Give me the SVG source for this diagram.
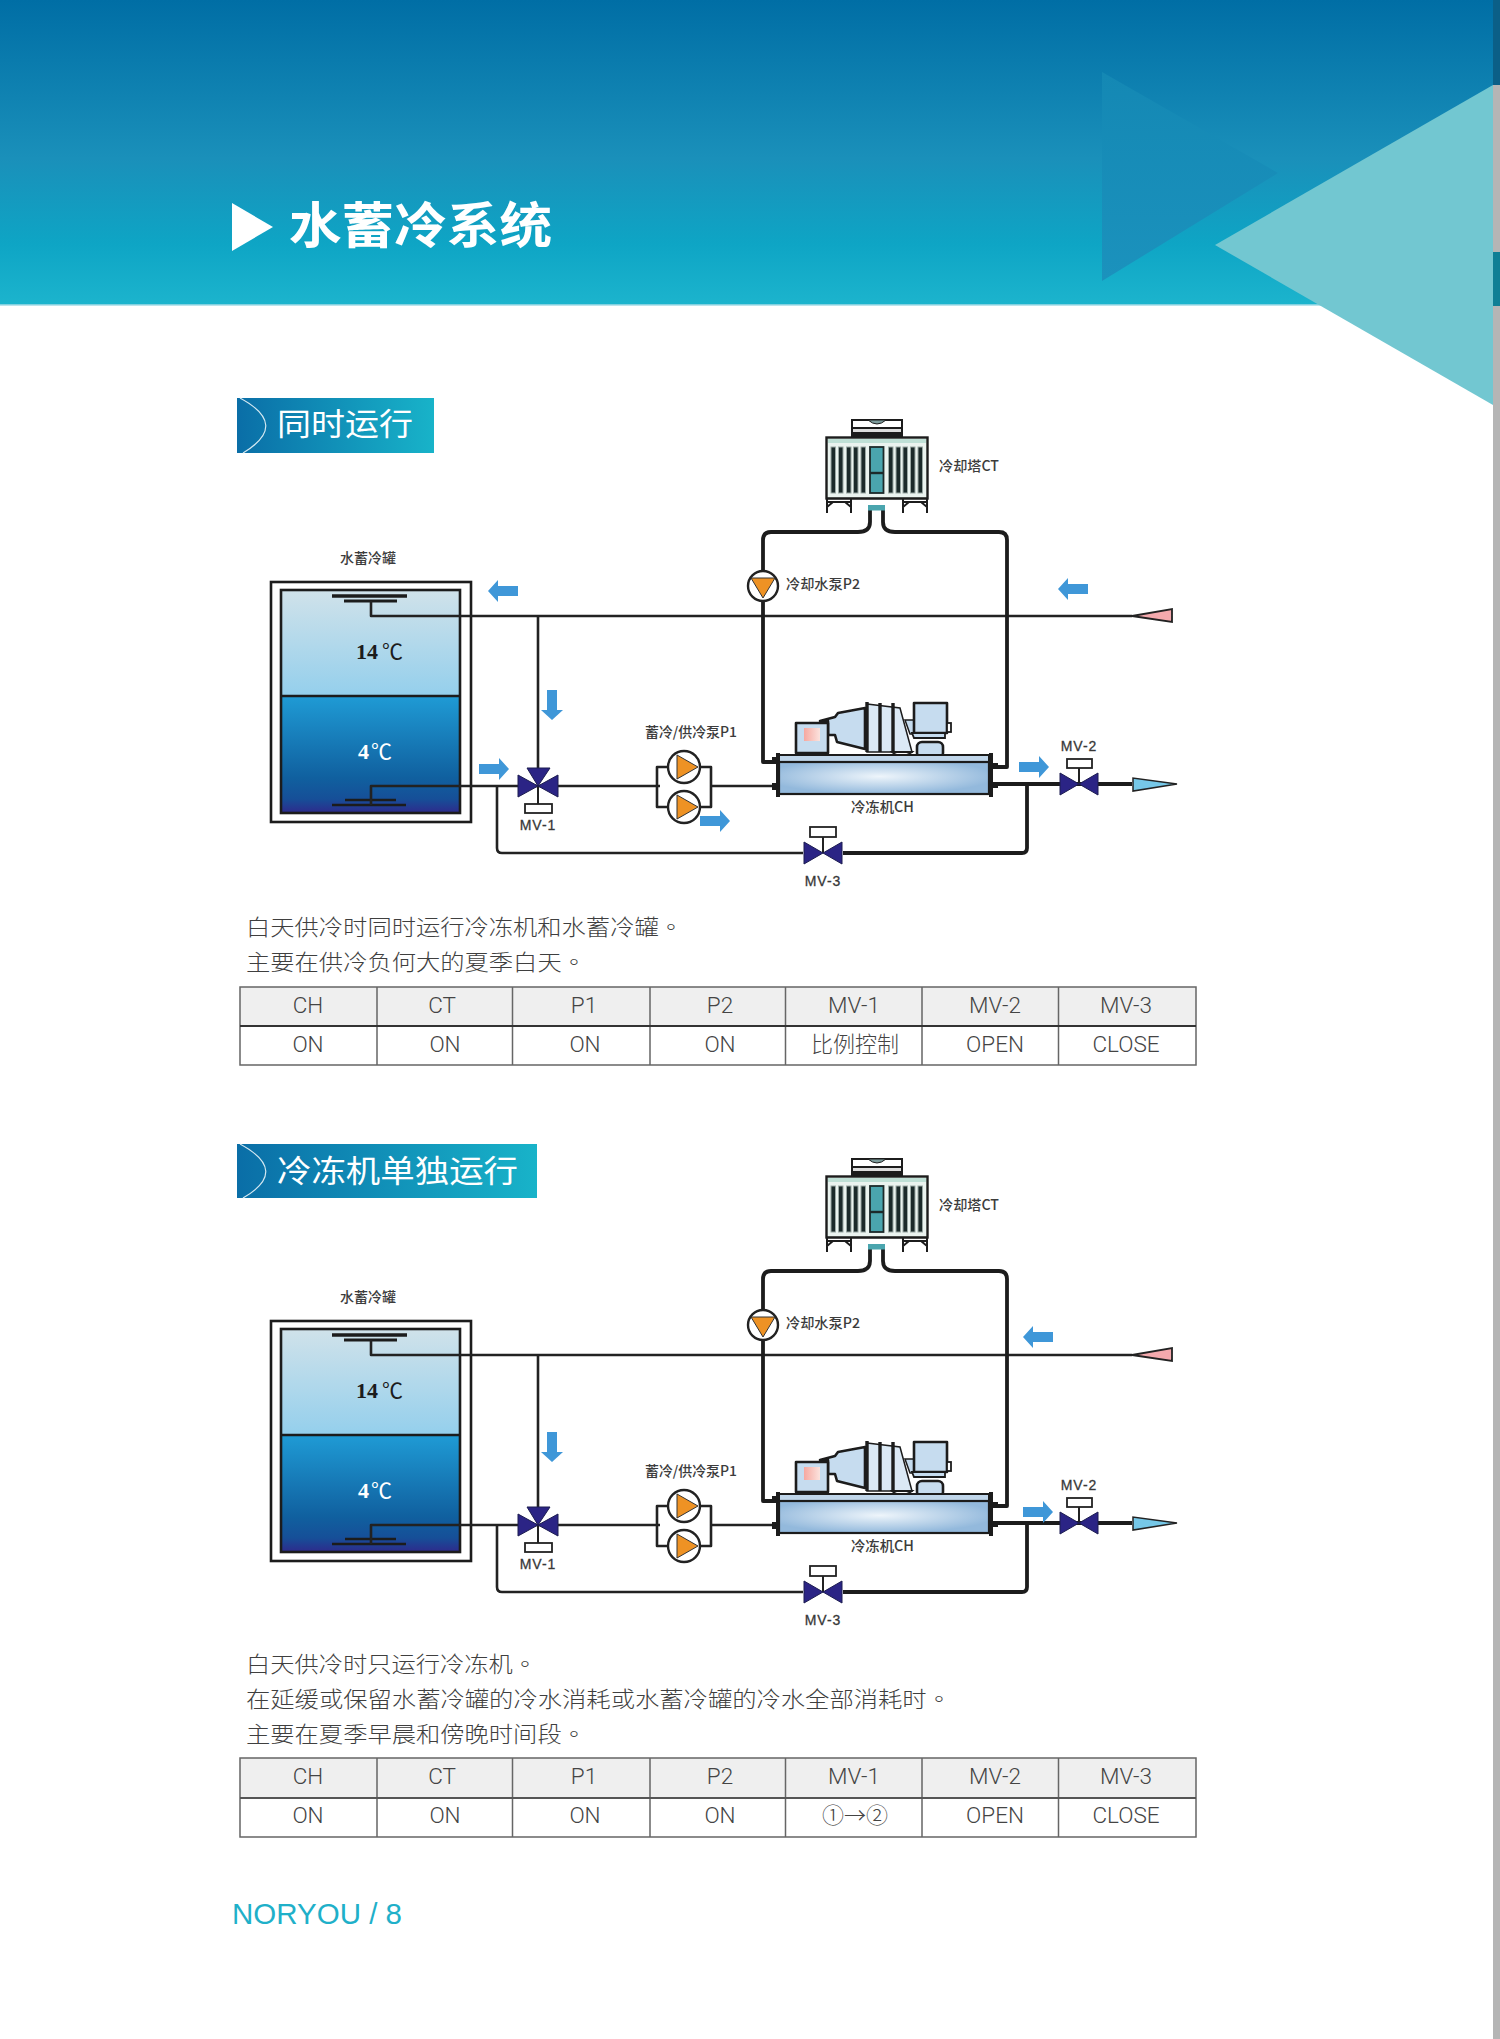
<svg xmlns="http://www.w3.org/2000/svg" width="1500" height="2039" viewBox="0 0 1500 2039">
<style>
.pipe{fill:none;stroke:#222;stroke-width:2.6;stroke-linejoin:round}
.thick{fill:none;stroke:#1c1c1c;stroke-width:3.8;stroke-linejoin:round}
.lbl{font-family:"Noto Sans CJK SC","Liberation Sans",sans-serif;font-size:14px;font-weight:500;fill:#3c3c3c}
.mv{font-family:"Liberation Sans","Noto Sans CJK SC",sans-serif;font-size:14px;fill:#333;stroke:#444;stroke-width:.3px;letter-spacing:1px;text-anchor:middle}
.temp{font-family:"Liberation Serif","Noto Sans CJK SC",serif;font-size:22px;font-weight:bold}
.deg{font-family:"Noto Sans CJK SC",serif;font-size:21px;font-weight:400}
.body{font-family:"Noto Sans CJK SC","Liberation Sans",sans-serif;font-size:22px;font-weight:300;fill:#3f3f3f}
.stop{font-family:"Noto Sans CJK TC",sans-serif}
.tag{font-family:"Noto Sans CJK SC","Liberation Sans",sans-serif;font-size:31px;font-weight:400;fill:#fff}
.cell{font-family:Roboto,"Liberation Sans","Noto Sans CJK SC",sans-serif;font-size:22.5px;font-weight:300;fill:#444;text-anchor:middle}
.cjk{font-family:"Noto Sans CJK SC",sans-serif;font-size:22px}
.arr{fill:#3f97d8}
.grid{stroke:#666;stroke-width:1.5;fill:none}
.slat{fill:#1b2a2a;stroke:#9aa8a4;stroke-width:1}
.blk{fill:#c6dcef;stroke:#1c1c1c;stroke-width:2.6;stroke-linejoin:round}
.ring{fill:none;stroke:#1c1c1c;stroke-width:3.4}
</style>
<defs>
<linearGradient id="hdr" x1="0" y1="0" x2="0" y2="1"><stop offset="0" stop-color="#006ea5"/><stop offset=".52" stop-color="#1a90ba"/><stop offset=".8" stop-color="#0ea5c5"/><stop offset="1" stop-color="#1cb4cd"/></linearGradient>
<linearGradient id="dtri" x1="0" y1="0" x2="0" y2="1"><stop offset="0" stop-color="#1488b4"/><stop offset="1" stop-color="#1b92bd"/></linearGradient>
<linearGradient id="tagg" x1="0" y1="0" x2="1" y2="0"><stop offset="0" stop-color="#0a6ea7"/><stop offset="1" stop-color="#18b3c9"/></linearGradient>
<linearGradient id="warm" x1="0" y1="0" x2="0" y2="1"><stop offset="0" stop-color="#d0e2ea"/><stop offset="1" stop-color="#94cfec"/></linearGradient>
<linearGradient id="cold" x1="0" y1="0" x2="0" y2="1"><stop offset="0" stop-color="#1f9bd5"/><stop offset=".7" stop-color="#10609f"/><stop offset=".88" stop-color="#164f98"/><stop offset="1" stop-color="#2e2a8c"/></linearGradient>
<radialGradient id="shell" cx=".48" cy=".45" r=".55"><stop offset="0" stop-color="#eef5fb"/><stop offset="1" stop-color="#93b9dc"/></radialGradient>
<linearGradient id="pink" x1="0" y1="0" x2="1" y2="0"><stop offset="0" stop-color="#f6a8a0"/><stop offset="1" stop-color="#fbe3de"/></linearGradient>
<g id="ct-shape">
<rect x="852" y="420" width="50" height="8" fill="#fff" stroke="#1c1c1c" stroke-width="2"/>
<path d="M868 420Q877 428 886 420Z" fill="#7d9c9c" stroke="#1c1c1c"/>
<rect x="852" y="428" width="50" height="9" fill="#ddd" stroke="#1c1c1c" stroke-width="2"/>
<rect x="852" y="432" width="50" height="5" fill="#1c1c1c"/>
<rect x="826.500" y="437.500" width="101" height="61" fill="#eaf3ef" stroke="#1c1c1c" stroke-width="2.400"/>
<rect x="828" y="439" width="98" height="4" fill="#bfe0d6"/>
<rect class="slat" x="831" y="447" width="4.500" height="46"/><rect class="slat" x="838.500" y="447" width="4.500" height="46"/><rect class="slat" x="846.500" y="447" width="4.500" height="46"/><rect class="slat" x="853.500" y="447" width="4.500" height="46"/><rect class="slat" x="861" y="447" width="4.500" height="46"/>
<rect class="slat" x="888.500" y="447" width="4.500" height="46"/><rect class="slat" x="896" y="447" width="4.500" height="46"/><rect class="slat" x="903" y="447" width="4.500" height="46"/><rect class="slat" x="910.500" y="447" width="4.500" height="46"/><rect class="slat" x="918" y="447" width="4.500" height="46"/>
<rect x="870" y="447" width="13.500" height="46" fill="#4aa5ae" stroke="#1c2a2a" stroke-width="1.800"/>
<path d="M870 473H883.500" stroke="#1c2a2a" stroke-width="2.400"/>
<path d="M827 498.500H927" stroke="#1c1c1c" stroke-width="1.500"/>
<path d="M827 513V498M851 513V498M827 507L833 502H845L851 507M903 513V498M927 513V498M903 507L909 502H921L927 507M827 502H851M903 502H927" fill="none" stroke="#1c1c1c" stroke-width="2"/>
<rect x="868" y="505" width="17" height="5.500" fill="#4aa5ae"/>
</g>
<g id="chiller-shape">
<path d="M867 704L900 708L912 752H867Z" fill="#dbe9f5" stroke="#1c1c1c" stroke-width="1.500"/>
<path d="M820 721L835 717L838 713L865 708V749L837 742L835 735H828V721Z" class="blk"/>
<path d="M867 702V752M880 703V752M893 703V752" class="ring"/>
<rect x="796" y="723" width="32" height="30" class="blk"/>
<rect x="804" y="728" width="16" height="13" fill="url(#pink)"/>
<path d="M905 720H916V734H910Z" fill="#c6dcef" stroke="#1c1c1c" stroke-width="1.500"/>
<rect x="914" y="703" width="33" height="30" class="blk"/>
<rect x="947" y="723" width="4" height="9" fill="#fff" stroke="#1c1c1c" stroke-width="1.800"/>
<path d="M912 733H945V738H914Z" fill="#c6dcef" stroke="#1c1c1c" stroke-width="1.800"/>
<rect x="917" y="742" width="26" height="16" rx="5" class="blk"/>
<path d="M892 752Q901 760 912 752Z" fill="#fff" stroke="#1c1c1c" stroke-width="1.800"/>
<rect x="779" y="755" width="210" height="7.500" fill="#c0d6ea" stroke="#1c1c1c" stroke-width="2"/>
<rect x="779" y="762" width="210" height="32" fill="url(#shell)" stroke="#1c1c1c" stroke-width="2.200"/>
<rect x="776" y="753" width="4" height="44" fill="#1c1c1c"/><rect x="989" y="753" width="4" height="44" fill="#1c1c1c"/>
<rect x="772" y="757" width="5" height="7" fill="#1c1c1c"/><rect x="772" y="783" width="5" height="7" fill="#1c1c1c"/>
<rect x="993" y="763" width="5" height="6" fill="#1c1c1c"/><rect x="993" y="782" width="5" height="6" fill="#1c1c1c"/>
</g>
<path id="valve2" d="M-19 -11V11L19 -11V11Z" fill="#2b2485" stroke="#1c1c50" stroke-width="1"/>
<g id="valve3"><path d="M-20 -11V11L0 0ZM20 -11V11L0 0ZM-11 -18H12L0 0Z" fill="#2b2485" stroke="#1c1c50" stroke-width="1"/></g>
<g id="pumpR"><circle r="16" fill="#fff" stroke="#222" stroke-width="2.400"/><path d="M-7 -12V12L14 0Z" fill="#ee9224" stroke="#333"/></g>
<g id="pumpD"><circle r="15" fill="#fff" stroke="#222" stroke-width="2.400"/><path d="M-12 -8H12L0 12Z" fill="#ee9224" stroke="#333"/></g>
<path id="aR" class="arr" d="M0 -5H20V-11L30 0L20 11V5H0Z"/>
<path id="aL" class="arr" d="M0 -5H-20V-11L-30 0L-20 11V5H0Z"/>
<path id="aD" class="arr" d="M-5 0V20H-11L0 30L11 20H5V0Z"/>
</defs>

<g id="page">
<rect width="1500" height="2039" fill="#fff"/>
<rect width="1500" height="305" fill="url(#hdr)"/>
<path d="M0 305H1500" stroke="#a5dbe6" stroke-width="1.500"/>
<path d="M1102 72V281L1278 173Z" fill="url(#dtri)"/>
<path d="M1215 245L1493 85V405Z" fill="#72c7d1"/>
<rect x="1493" y="85" width="7" height="1954" fill="#b5b5b5"/>
<rect x="1493" y="0" width="7" height="85" fill="#0b5f87"/>
<rect x="1493" y="252" width="7" height="54" fill="#0e7f95"/>
</g>
<g id="title">
<path d="M232 203L273 227L232 251Z" fill="#fff"/>
<text x="289" y="243" font-family="Noto Sans CJK SC, sans-serif" font-size="49" font-weight="700" fill="#fff" textLength="263" lengthAdjust="spacingAndGlyphs">水蓄冷系统</text>
</g>

<g id="tag-1">
<rect x="237" y="398" width="197" height="55" fill="url(#tagg)"/>
<path d="M240 398Q290 425 243 453" fill="none" stroke="#d5e9f2" stroke-width="1.200"/>
<text class="tag" x="277" y="435" textLength="136" lengthAdjust="spacingAndGlyphs">同时运行</text>
</g>

<g id="diagram-1">
<g id="tank-1">
<text class="lbl" x="340" y="563" textLength="56" lengthAdjust="spacingAndGlyphs">水蓄冷罐</text>
<rect x="271" y="582" width="200" height="240" fill="#fff" stroke="#1c1c1c" stroke-width="2.600"/>
<rect x="281" y="590" width="179" height="106" fill="url(#warm)"/>
<rect x="281" y="696" width="179" height="117" fill="url(#cold)"/>
<rect x="281" y="590" width="179" height="223" fill="none" stroke="#1c1c1c" stroke-width="2.600"/>
<path d="M281 696H460" stroke="#1c1c1c" stroke-width="2.400"/>
<path d="M332 596H407" stroke="#1c1c1c" stroke-width="3.600"/><path d="M344 601H397" stroke="#1c1c1c" stroke-width="3"/>
<path d="M345 800H396M332 805H406" stroke="#1c1c1c" stroke-width="2.400"/>
<text class="temp" x="356" y="659" fill="#1c1c1c">14 <tspan class="deg" x="382">℃</tspan></text>
<text class="temp" x="358" y="759" fill="#fff">4 <tspan class="deg" x="371">℃</tspan></text>
</g>
<g id="connectors-1">
<path class="pipe" d="M371 601V616H1132"/>
<path class="pipe" d="M538 616V780"/>
<path class="pipe" d="M371 805V786H660"/>
<path class="pipe" d="M657 786V767H711V807H657V786M711 786H772"/>
<path class="pipe" d="M497 786V848Q497 853 502 853H803"/>
<path class="thick" d="M843 853H1022Q1027 853 1027 848V784"/>
<path class="thick" d="M996 784H1132"/>
<path class="thick" d="M870 510V522Q870 532 858 532H771Q763 532 763 540V762H772"/>
<path class="thick" d="M883 510V522Q883 532 895 532H999Q1007 532 1007 540V767H996"/>
<use href="#aL" x="518" y="591"/><use href="#aD" x="552" y="690"/><use href="#aR" x="479" y="769"/><use href="#aR" x="700" y="821"/><use href="#aR" x="1019" y="767"/><use href="#aL" x="1088" y="589"/>
</g>
<g id="inlet-1"><path d="M1132 616L1172 609V622Z" fill="#f4a9ad" stroke="#222" stroke-width="1.800"/></g>
<g id="outlet-1"><path d="M1133 778V791L1177 784Z" fill="#76c8e8" stroke="#222" stroke-width="1.500"/></g>
<g id="mv1-1"><path d="M538 786V804" stroke="#222" stroke-width="2"/><use href="#valve3" x="538" y="786"/><rect x="525" y="804" width="27" height="9" fill="#fff" stroke="#222" stroke-width="1.800"/><text class="mv" x="538" y="830">MV-1</text></g>
<g id="mv2-1"><path d="M1079 768V784" stroke="#222" stroke-width="2"/><use href="#valve2" x="1079" y="784"/><rect x="1067" y="759" width="25" height="9" fill="#fff" stroke="#222" stroke-width="1.800"/><text class="mv" x="1079" y="751">MV-2</text></g>
<g id="mv3-1"><path d="M823 837V853" stroke="#222" stroke-width="2"/><use href="#valve2" x="823" y="853"/><rect x="810" y="827" width="26" height="10" fill="#fff" stroke="#222" stroke-width="1.800"/><text class="mv" x="823" y="886">MV-3</text></g>
<g id="p1-1"><use href="#pumpR" x="684" y="767"/><use href="#pumpR" x="684" y="807"/><text class="lbl" x="645" y="737" textLength="92" lengthAdjust="spacingAndGlyphs">蓄冷/供冷泵P1</text></g>
<g id="p2-1"><use href="#pumpD" x="763" y="586"/><text class="lbl" x="786" y="589" textLength="74" lengthAdjust="spacingAndGlyphs">冷却水泵P2</text></g>
<g id="ct-1"><use href="#ct-shape"/><text class="lbl" x="939" y="471" textLength="60" lengthAdjust="spacingAndGlyphs">冷却塔CT</text></g>
<g id="ch-1"><use href="#chiller-shape"/><text class="lbl" x="851" y="812" textLength="63" lengthAdjust="spacingAndGlyphs">冷冻机CH</text></g>
</g>

<g id="desc-1">
<text class="body" x="246" y="935" textLength="437" lengthAdjust="spacingAndGlyphs">白天供冷时同时运行冷冻机和水蓄冷罐<tspan class="stop">。</tspan></text>
<text class="body" x="246" y="970" textLength="340" lengthAdjust="spacingAndGlyphs">主要在供冷负何大的夏季白天<tspan class="stop">。</tspan></text>
</g>
<g id="table-1">
<rect x="240" y="987" width="956" height="39" fill="#efefef"/>
<path class="grid" d="M240 987H1196V1065H240ZM377 987V1065M512.500 987V1065M650 987V1065M785.500 987V1065M922 987V1065M1058.500 987V1065"/>
<path d="M240 1026H1196" stroke="#333" stroke-width="1.800"/>
<text class="cell" x="308" y="1013">CH</text><text class="cell" x="442" y="1013">CT</text><text class="cell" x="584" y="1013">P1</text><text class="cell" x="720" y="1013">P2</text><text class="cell" x="854" y="1013">MV-1</text><text class="cell" x="995" y="1013">MV-2</text><text class="cell" x="1126" y="1013">MV-3</text>
<text class="cell" x="308" y="1052">ON</text><text class="cell" x="445" y="1052">ON</text><text class="cell" x="585" y="1052">ON</text><text class="cell" x="720" y="1052">ON</text><text class="cell cjk" x="855" y="1052">比例控制</text><text class="cell" x="995" y="1052">OPEN</text><text class="cell" x="1126" y="1052">CLOSE</text>
</g>

<g id="tag-2">
<rect x="237" y="1144" width="300" height="54" fill="url(#tagg)"/>
<path d="M240 1144Q290 1171 243 1198" fill="none" stroke="#d5e9f2" stroke-width="1.200"/>
<text class="tag" x="277" y="1182" textLength="241" lengthAdjust="spacingAndGlyphs">冷冻机单独运行</text>
</g>

<g id="diagram-2" transform="translate(0,739)">
<g id="tank-2">
<text class="lbl" x="340" y="563" textLength="56" lengthAdjust="spacingAndGlyphs">水蓄冷罐</text>
<rect x="271" y="582" width="200" height="240" fill="#fff" stroke="#1c1c1c" stroke-width="2.600"/>
<rect x="281" y="590" width="179" height="106" fill="url(#warm)"/>
<rect x="281" y="696" width="179" height="117" fill="url(#cold)"/>
<rect x="281" y="590" width="179" height="223" fill="none" stroke="#1c1c1c" stroke-width="2.600"/>
<path d="M281 696H460" stroke="#1c1c1c" stroke-width="2.400"/>
<path d="M332 596H407" stroke="#1c1c1c" stroke-width="3.600"/><path d="M344 601H397" stroke="#1c1c1c" stroke-width="3"/>
<path d="M345 800H396M332 805H406" stroke="#1c1c1c" stroke-width="2.400"/>
<text class="temp" x="356" y="659" fill="#1c1c1c">14 <tspan class="deg" x="382">℃</tspan></text>
<text class="temp" x="358" y="759" fill="#fff">4 <tspan class="deg" x="371">℃</tspan></text>
</g>
<g id="connectors-2">
<path class="pipe" d="M371 601V616H1132"/>
<path class="pipe" d="M538 616V780"/>
<path class="pipe" d="M371 805V786H660"/>
<path class="pipe" d="M657 786V767H711V807H657V786M711 786H772"/>
<path class="pipe" d="M497 786V848Q497 853 502 853H803"/>
<path class="thick" d="M843 853H1022Q1027 853 1027 848V784"/>
<path class="thick" d="M996 784H1132"/>
<path class="thick" d="M870 510V522Q870 532 858 532H771Q763 532 763 540V762H772"/>
<path class="thick" d="M883 510V522Q883 532 895 532H999Q1007 532 1007 540V767H996"/>
<use href="#aD" x="552" y="693"/><use href="#aR" x="1023" y="773"/><use href="#aL" x="1053" y="598"/>
</g>
<g id="inlet-2"><path d="M1132 616L1172 609V622Z" fill="#f4a9ad" stroke="#222" stroke-width="1.800"/></g>
<g id="outlet-2"><path d="M1133 778V791L1177 784Z" fill="#76c8e8" stroke="#222" stroke-width="1.500"/></g>
<g id="mv1-2"><path d="M538 786V804" stroke="#222" stroke-width="2"/><use href="#valve3" x="538" y="786"/><rect x="525" y="804" width="27" height="9" fill="#fff" stroke="#222" stroke-width="1.800"/><text class="mv" x="538" y="830">MV-1</text></g>
<g id="mv2-2"><path d="M1079 768V784" stroke="#222" stroke-width="2"/><use href="#valve2" x="1079" y="784"/><rect x="1067" y="759" width="25" height="9" fill="#fff" stroke="#222" stroke-width="1.800"/><text class="mv" x="1079" y="751">MV-2</text></g>
<g id="mv3-2"><path d="M823 837V853" stroke="#222" stroke-width="2"/><use href="#valve2" x="823" y="853"/><rect x="810" y="827" width="26" height="10" fill="#fff" stroke="#222" stroke-width="1.800"/><text class="mv" x="823" y="886">MV-3</text></g>
<g id="p1-2"><use href="#pumpR" x="684" y="767"/><use href="#pumpR" x="684" y="807"/><text class="lbl" x="645" y="737" textLength="92" lengthAdjust="spacingAndGlyphs">蓄冷/供冷泵P1</text></g>
<g id="p2-2"><use href="#pumpD" x="763" y="586"/><text class="lbl" x="786" y="589" textLength="74" lengthAdjust="spacingAndGlyphs">冷却水泵P2</text></g>
<g id="ct-2"><use href="#ct-shape"/><text class="lbl" x="939" y="471" textLength="60" lengthAdjust="spacingAndGlyphs">冷却塔CT</text></g>
<g id="ch-2"><use href="#chiller-shape"/><text class="lbl" x="851" y="812" textLength="63" lengthAdjust="spacingAndGlyphs">冷冻机CH</text></g>
</g>

<g id="desc-2">
<text class="body" x="246" y="1672" textLength="291" lengthAdjust="spacingAndGlyphs">白天供冷时只运行冷冻机<tspan class="stop">。</tspan></text>
<text class="body" x="246" y="1707" textLength="705" lengthAdjust="spacingAndGlyphs">在延缓或保留水蓄冷罐的冷水消耗或水蓄冷罐的冷水全部消耗时<tspan class="stop">。</tspan></text>
<text class="body" x="246" y="1742" textLength="340" lengthAdjust="spacingAndGlyphs">主要在夏季早晨和傍晚时间段<tspan class="stop">。</tspan></text>
</g>
<g id="table-2">
<rect x="240" y="1758" width="956" height="40" fill="#efefef"/>
<path class="grid" d="M240 1758H1196V1837H240ZM377 1758V1837M512.500 1758V1837M650 1758V1837M785.500 1758V1837M922 1758V1837M1058.500 1758V1837"/>
<path d="M240 1798H1196" stroke="#555" stroke-width="1.800"/>
<text class="cell" x="308" y="1784">CH</text><text class="cell" x="442" y="1784">CT</text><text class="cell" x="584" y="1784">P1</text><text class="cell" x="720" y="1784">P2</text><text class="cell" x="854" y="1784">MV-1</text><text class="cell" x="995" y="1784">MV-2</text><text class="cell" x="1126" y="1784">MV-3</text>
<text class="cell" x="308" y="1823">ON</text><text class="cell" x="445" y="1823">ON</text><text class="cell" x="585" y="1823">ON</text><text class="cell" x="720" y="1823">ON</text><text class="cell cjk" x="855" y="1823">①→②</text><text class="cell" x="995" y="1823">OPEN</text><text class="cell" x="1126" y="1823">CLOSE</text>
</g>
<text id="footer" x="232" y="1924" font-family="Liberation Sans, sans-serif" font-size="29.500" fill="#1fb0c9">NORYOU / 8</text>
</svg>
